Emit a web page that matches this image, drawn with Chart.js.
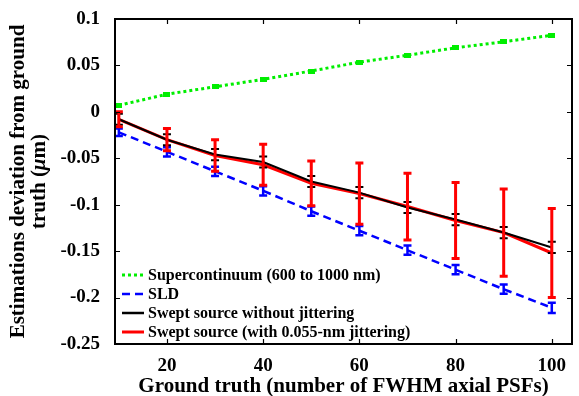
<!DOCTYPE html>
<html>
<head>
<meta charset="utf-8">
<script src="https://cdn.jsdelivr.net/npm/chart.js@4.4.0/dist/chart.umd.min.js"></script>
<style>
  html, body { margin: 0; padding: 0; background: #fff; }
  #wrap { width: 579px; height: 396px; }
</style>
</head>
<body>
<div id="wrap"><canvas id="chart" width="579" height="396"></canvas></div>
<script>
const groundTruth = [10, 20, 30, 40, 50, 60, 70, 80, 90, 100];
const xTicks = [20, 40, 60, 80, 100];
const yTicks = [0.1, 0.05, 0, -0.05, -0.1, -0.15, -0.2, -0.25];

const superContinuum = [0.007, 0.019, 0.027, 0.035, 0.044, 0.0535, 0.061, 0.069, 0.0755, 0.0825];
const sld = [-0.022, -0.043, -0.064, -0.085, -0.107, -0.128, -0.149, -0.170, -0.191, -0.211];
const sldErr = [0.004, 0.005, 0.005, 0.005, 0.005, 0.005, 0.005, 0.005, 0.005, 0.0055];
const sweptNoJitter = [-0.008, -0.030, -0.046, -0.054, -0.075, -0.087, -0.103, -0.116, -0.130, -0.146];
const sweptNoJitterErr = [0.006, 0.006, 0.006, 0.006, 0.006, 0.006, 0.006, 0.006, 0.006, 0.006];
const sweptJitter = [-0.008, -0.030, -0.047, -0.057, -0.077, -0.088, -0.102, -0.117, -0.130, -0.152];
const sweptJitterErr = [0.008, 0.012, 0.017, 0.022, 0.024, 0.033, 0.036, 0.041, 0.047, 0.048];

const FONT = "'Liberation Serif', 'Times New Roman', serif";

const toPoints = vals => groundTruth.map((x, i) => ({ x, y: vals[i] }));

const legendItems = [
  { label: 'Supercontinuum (600 to 1000 nm)', color: '#00ee00', width: 3, dash: [3, 3] },
  { label: 'SLD', color: '#0000ff', width: 2.5, dash: [8, 5] },
  { label: 'Swept source without jittering', color: '#000000', width: 2.5, dash: [] },
  { label: 'Swept source (with 0.055-nm jittering)', color: '#ff0000', width: 3, dash: [] }
];

// small flat rectangle marker for the green series
const greenMark = document.createElement('canvas');
greenMark.width = 7;
greenMark.height = 5;
(() => {
  const g = greenMark.getContext('2d');
  g.fillStyle = '#00ee00';
  g.fillRect(0, 0, 7, 5);
})();

// error bars drawn through the chart scales
const errorBarPlugin = {
  id: 'errorBars',
  afterDatasetsDraw(chart) {
    const { ctx, scales: { x, y } } = chart;
    chart.data.datasets.forEach(ds => {
      if (!ds.errors) return;
      ctx.save();
      ctx.strokeStyle = ds.borderColor;
      ctx.lineWidth = ds.errWidth;
      ctx.setLineDash([]);
      ds.data.forEach((p, i) => {
        const px = x.getPixelForValue(p.x);
        const top = y.getPixelForValue(p.y + ds.errors[i]);
        const bot = y.getPixelForValue(p.y - ds.errors[i]);
        const cap = ds.capWidth;
        ctx.beginPath();
        ctx.moveTo(px, top); ctx.lineTo(px, bot);
        ctx.moveTo(px - cap, top); ctx.lineTo(px + cap, top);
        ctx.moveTo(px - cap, bot); ctx.lineTo(px + cap, bot);
        ctx.stroke();
      });
      ctx.restore();
    });
  }
};

// box frame, inward ticks, y title with italic mu, in-plot legend
const framePlugin = {
  id: 'frame',
  afterDraw(chart) {
    const { ctx, chartArea: a, scales: { x, y } } = chart;
    ctx.save();
    ctx.strokeStyle = '#000';
    ctx.lineWidth = 2;
    ctx.setLineDash([]);
    ctx.strokeRect(a.left, a.top, a.right - a.left, a.bottom - a.top);
    ctx.lineWidth = 1.2;
    ctx.beginPath();
    xTicks.forEach(v => {
      const px = Math.round(x.getPixelForValue(v)) + 0.5;
      ctx.moveTo(px, a.bottom); ctx.lineTo(px, a.bottom - 5);
      ctx.moveTo(px, a.top); ctx.lineTo(px, a.top + 5);
    });
    yTicks.forEach(v => {
      const py = Math.round(y.getPixelForValue(v)) + 0.5;
      ctx.moveTo(a.left, py); ctx.lineTo(a.left + 5, py);
      ctx.moveTo(a.right, py); ctx.lineTo(a.right - 5, py);
    });
    ctx.stroke();

    // y axis title
    const cy = (a.top + a.bottom) / 2;
    const bold = 'bold 21px ' + FONT;
    const boldItalic = 'italic bold 21px ' + FONT;
    ctx.fillStyle = '#000';
    ctx.textBaseline = 'middle';
    ctx.translate(0, cy);
    ctx.rotate(-Math.PI / 2);
    ctx.font = bold;
    ctx.textAlign = 'center';
    ctx.fillText('Estimations deviation from ground', 0, 19);
    const parts = [['truth (', bold], ['\u03bc', boldItalic], ['m)', bold]];
    let total = 0;
    parts.forEach(([t, f]) => { ctx.font = f; total += ctx.measureText(t).width; });
    let tx = -total / 2;
    ctx.textAlign = 'left';
    parts.forEach(([t, f]) => {
      ctx.font = f;
      ctx.fillText(t, tx, 40);
      tx += ctx.measureText(t).width;
    });
    ctx.setTransform(1, 0, 0, 1, 0, 0);

    ctx.font = 'bold 16px ' + FONT;
    ctx.textBaseline = 'middle';
    ctx.textAlign = 'left';
    legendItems.forEach((it, i) => {
      const ly = 275 + i * 19;
      ctx.strokeStyle = it.color;
      ctx.lineWidth = it.width;
      ctx.setLineDash(it.dash);
      ctx.beginPath();
      ctx.moveTo(122, ly); ctx.lineTo(144, ly);
      ctx.stroke();
      ctx.fillStyle = '#000';
      ctx.fillText(it.label, 148, ly + 1);
    });
    ctx.restore();
  }
};

new Chart(document.getElementById('chart'), {
  type: 'line',
  data: {
    datasets: [
      {
        label: legendItems[0].label,
        data: toPoints(superContinuum),
        borderColor: '#00ee00',
        backgroundColor: '#00ee00',
        borderWidth: 3,
        borderDash: [3, 3],
        pointStyle: greenMark,
        pointRadius: 4,
        tension: 0
      },
      {
        label: legendItems[1].label,
        data: toPoints(sld),
        errors: sldErr,
        errWidth: 2.5,
        capWidth: 4,
        borderColor: '#0000ff',
        borderWidth: 2.5,
        borderDash: [8, 5],
        pointRadius: 0,
        tension: 0
      },
      {
        label: legendItems[2].label,
        data: toPoints(sweptNoJitter),
        errors: sweptNoJitterErr,
        errWidth: 2,
        capWidth: 4,
        borderColor: '#000000',
        borderWidth: 2,
        pointRadius: 0,
        tension: 0
      },
      {
        label: legendItems[3].label,
        data: toPoints(sweptJitter),
        errors: sweptJitterErr,
        errWidth: 3,
        capWidth: 4,
        borderColor: '#ff0000',
        borderWidth: 3,
        pointRadius: 0,
        tension: 0
      }
    ]
  },
  options: {
    responsive: false,
    animation: false,
    layout: { padding: { top: 19, right: 1, left: 0, bottom: 0 } },
    plugins: {
      legend: { display: false },
      tooltip: { enabled: false }
    },
    scales: {
      x: {
        type: 'linear',
        min: 9.2,
        max: 104.2,
        afterBuildTicks: s => { s.ticks = xTicks.map(v => ({ value: v })); },
        afterFit: s => { s.height = 52; },
        grid: { display: false },
        border: { display: false },
        ticks: {
          color: '#000',
          padding: 3,
          maxRotation: 0,
          font: { family: FONT, size: 19, weight: 'bold' }
        },
        title: {
          display: true,
          text: 'Ground truth (number of FWHM axial PSFs)',
          color: '#000',
          padding: { top: 0, bottom: 0 },
          font: { family: FONT, size: 21, weight: 'bold', lineHeight: 0.9 }
        }
      },
      y: {
        min: -0.25,
        max: 0.1,
        afterBuildTicks: s => { s.ticks = yTicks.map(v => ({ value: v })); },
        afterFit: s => { s.width = 115; },
        grid: { display: false },
        border: { display: false },
        ticks: {
          color: '#000',
          padding: 7,
          font: { family: FONT, size: 19, weight: 'bold' },
          callback: v => String(Math.round(v * 100) / 100)
        },
        title: { display: false }
      }
    }
  },
  plugins: [errorBarPlugin, framePlugin]
});
</script>
</body>
</html>
